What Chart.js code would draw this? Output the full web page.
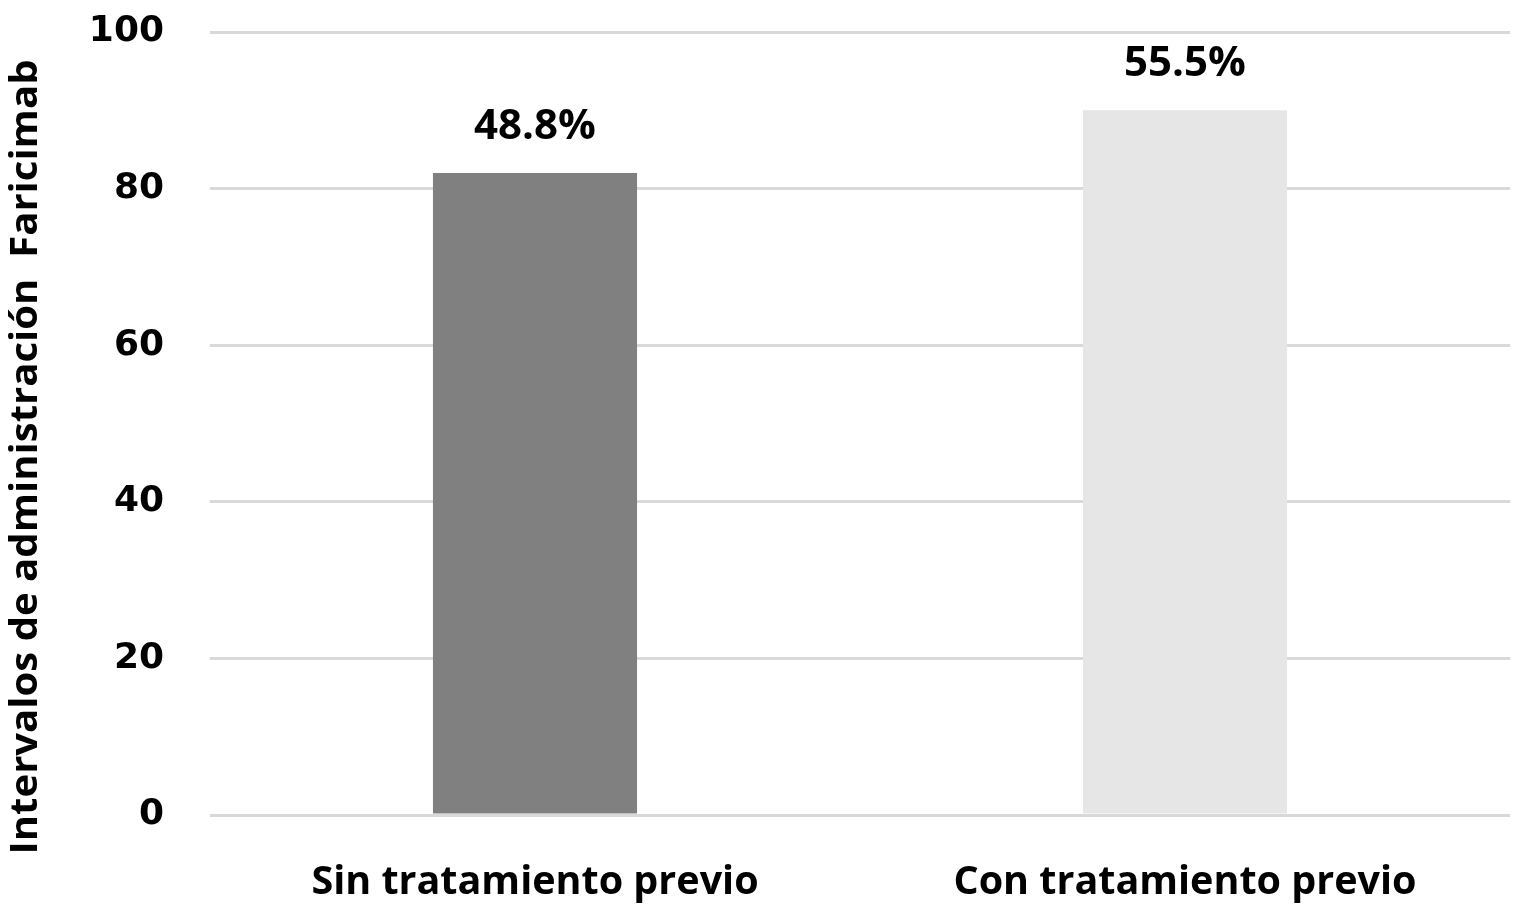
<!DOCTYPE html>
<html>
<head>
<meta charset="utf-8">
<script src="https://cdn.jsdelivr.net/npm/chart.js@4/dist/chart.umd.min.js"></script>
<style>
  html, body { margin: 0; padding: 0; background: #fff; }
  #wrap { width: 1514px; height: 910px; }
</style>
</head>
<body>
<div id="wrap"><canvas id="c"></canvas></div>
<script>
const categories = ['Sin tratamiento previo', 'Con tratamiento previo'];
const values = [82, 90];
const barLabels = ['48.8%', '55.5%'];
const barColors = ['#808080', '#e6e6e6'];
const yTitle = 'Intervalos de administración  Faricimab';

// percentage text above each bar
const topLabels = {
    id: 'topLabels',
    afterDatasetsDraw(chart) {
        const ctx = chart.ctx;
        const meta = chart.getDatasetMeta(0);
        ctx.save();
        ctx.font = 'bold 42px "Open Sans"';
        ctx.fillStyle = '#000';
        ctx.textAlign = 'center';
        ctx.textBaseline = 'middle';
        meta.data.forEach((bar, i) => {
            ctx.fillText(barLabels[i], bar.x, bar.y - 46);
        });
        ctx.restore();
    }
};

// condensed, rotated y axis title
const yTitlePlugin = {
    id: 'yTitlePlugin',
    afterDraw(chart) {
        const ctx = chart.ctx;
        ctx.save();
        ctx.translate(26, 457);
        ctx.rotate(-Math.PI / 2);
        ctx.font = 'bold 38px "Open Sans"';
        const w = ctx.measureText(yTitle).width;
        ctx.scale(795 / w, 1);
        ctx.fillStyle = '#000';
        ctx.textAlign = 'center';
        ctx.textBaseline = 'middle';
        ctx.fillText(yTitle, 0, 0);
        ctx.restore();
    }
};

new Chart(document.getElementById('c').getContext('2d'), {
    type: 'bar',
    data: {
        labels: categories,
        datasets: [{
            data: values,
            backgroundColor: barColors,
            borderWidth: 0,
            categoryPercentage: 1,
            barPercentage: 0.314
        }]
    },
    options: {
        responsive: true,
        maintainAspectRatio: false,
        animation: false,
        layout: { padding: { top: 32, right: 4, left: 0, bottom: 0 } },
        scales: {
            x: {
                grid: { display: false },
                border: { display: false },
                ticks: {
                    color: '#000',
                    font: { family: 'Open Sans', size: 39.5, weight: 'bold' },
                    padding: 36
                },
                afterFit(scale) { scale.height = 95; }
            },
            y: {
                min: 0,
                max: 100,
                ticks: {
                    stepSize: 20,
                    color: '#000',
                    font: { family: 'DejaVu Sans', size: 36, weight: 'bold' },
                    padding: 46
                },
                grid: { color: '#d9d9d9', lineWidth: 3, drawTicks: false },
                border: { display: false },
                afterFit(scale) {
                    scale.width = 210;
                    scale.paddingTop = 0;
                    scale.paddingBottom = 0;
                }
            }
        },
        plugins: {
            legend: { display: false },
            tooltip: { enabled: false }
        }
    },
    plugins: [topLabels, yTitlePlugin]
});
</script>
</body>
</html>
